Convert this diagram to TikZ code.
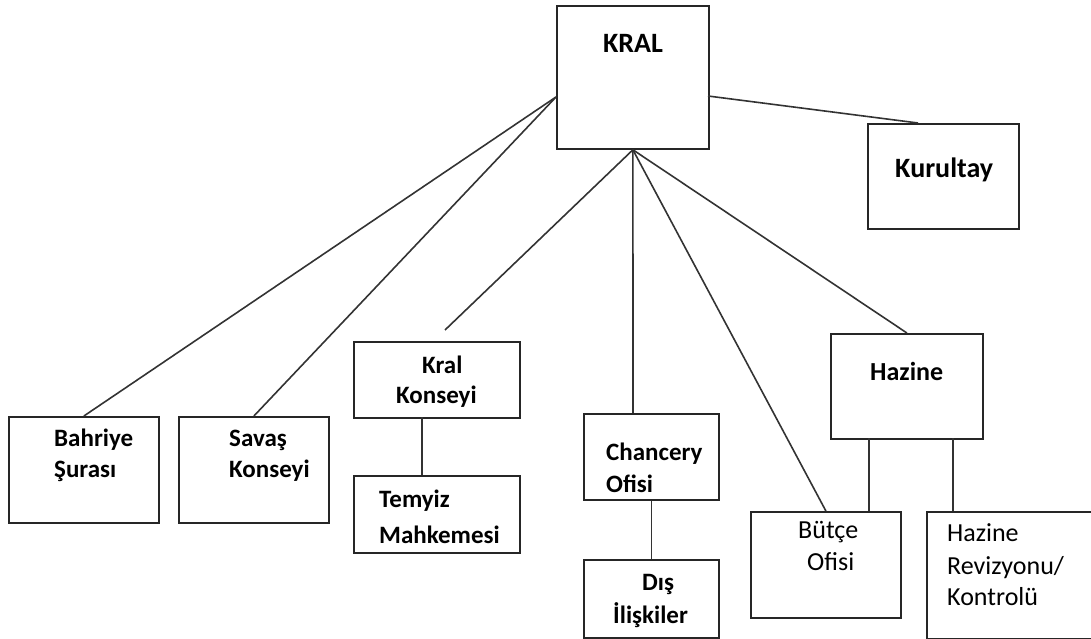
\documentclass[tikz,border=0pt]{standalone}
\usepackage{fontspec}
\setmainfont{Carlito}
\begin{document}
\begin{tikzpicture}[x=1pt,y=-1pt,
  box/.style={draw=black!85, line width=1.8pt, inner sep=0pt, anchor=north west},
  link/.style={draw=black!80, line width=1.6pt},
  lbl/.style={anchor=base west, inner sep=0pt, font=\fontsize{25}{30}\selectfont\bfseries},
  lblr/.style={anchor=base west, inner sep=0pt, font=\fontsize{26}{31}\selectfont},
  big/.style={inner sep=0pt, font=\fontsize{28}{34}\selectfont\bfseries}]
\useasboundingbox (0,0) rectangle (1091,639);

% boxes
\node[box, minimum width=152pt, minimum height=143pt] (kral) at (556,5) {};
\node[box, minimum width=151pt, minimum height=105pt] (kurultay) at (867,123) {};
\node[box, minimum width=150pt, minimum height=106pt] (bahriye) at (8,416) {};
\node[box, minimum width=150pt, minimum height=106pt] (savas) at (178,416) {};
\node[box, minimum width=166pt, minimum height=76pt] (konsey) at (353,341) {};
\node[box, minimum width=166pt, minimum height=77pt] (temyiz) at (353,475) {};
\node[box, minimum width=135pt, minimum height=86pt] (chancery) at (583,413) {};
\node[box, minimum width=135pt, minimum height=78pt] (dis) at (583,559) {};
\node[box, minimum width=152pt, minimum height=105pt] (hazine) at (830,333) {};
\node[box, minimum width=150pt, minimum height=106pt] (butce) at (750,511) {};
\node[box, minimum width=172pt, minimum height=127pt] (revizyon) at (926,511) {};

% texts
\node[big, anchor=base] (tkral) at (633,53) {KRAL};
\node[big, anchor=base west] (tkurultay) at (895,178) {Kurultay};
\node[lbl] (tb1) at (54,446) {Bahriye};
\node[lbl] (tb2) at (54,477) {Şurası};
\node[lbl] (ts1) at (229,446) {Savaş};
\node[lbl] (ts2) at (229,477) {Konseyi};
\node[lbl] (tk1) at (422,373) {Kral};
\node[lbl] (tk2) at (396,403) {Konseyi};
\node[lbl] (tt1) at (379,507) {Temyiz};
\node[lbl] (tt2) at (379,543) {Mahkemesi};
\node[lbl] (tc1) at (606,460) {Chancery};
\node[lbl] (tc2) at (606,492) {Ofisi};
\node[lbl] (td1) at (642,590) {Dış};
\node[lbl] (td2) at (613,623) {İlişkiler};
\node[lbl, font=\fontsize{26}{31}\selectfont\bfseries] (th) at (870,380) {Hazine};
\node[lblr] (tb3) at (798,538) {Bütçe};
\node[lblr] (tb4) at (807,570) {Ofisi};
\node[lblr] (tr1) at (947,541) {Hazine};
\node[lblr] (tr2) at (947,574) {Revizyonu/};
\node[lblr] (tr3) at (947,605) {Kontrolü};

% attachment points
\coordinate (kralW) at (556,97);
\coordinate (kralE) at (708,96);
\coordinate (kurN) at (918,123);
\coordinate (konseyEnd) at (445,330);
\coordinate (chN) at (633,413);
\coordinate (konS) at (422,417);
\coordinate (temN) at (422,475);
\coordinate (hzS1) at (869,438);
\coordinate (hzS2) at (953,438);
\coordinate (buN) at (869,511);
\coordinate (reN) at (953,511);

% connectors
\draw[link] (kralW) -- (bahriye.north);
\draw[link] (kralW) -- (savas.north);
\draw[link] (kralE) -- (kurN);
\draw[link] (kral.south) -- (konseyEnd);
\draw[link] (kral.south) -- (chN);
\draw[link] (kral.south) -- (butce.north);
\draw[link] (kral.south) -- (hazine.north);
\draw[link] (konS) -- (temN);
\draw[link] (chancery.south) -- (dis.north);
\draw[link] (hzS1) -- (buN);
\draw[link] (hzS2) -- (reN);
\end{tikzpicture}
\end{document}
